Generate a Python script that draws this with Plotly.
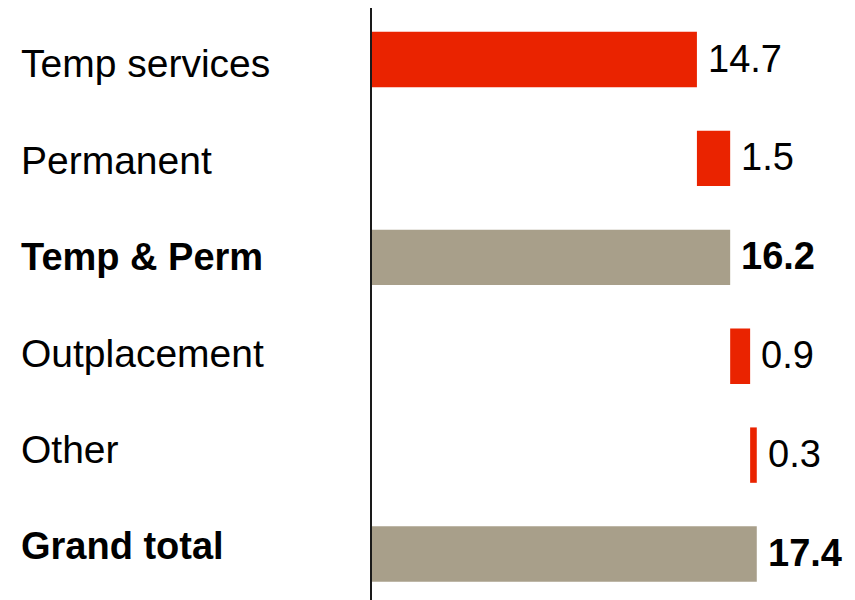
import plotly.graph_objects as go

# Revenue bridge by service line
categories = ["Temp services", "Permanent", "Temp & Perm", "Outplacement", "Other", "Grand total"]
values = [14.7, 1.5, 16.2, 0.9, 0.3, 17.4]
is_total = [False, False, True, False, False, True]

RED = "#EA2300"
TAN = "#A89F8A"
FONT = "Liberation Sans, Arial, sans-serif"

# running base for the floating (incremental) bars
bases = []
running = 0.0
for v, tot in zip(values, is_total):
    if tot:
        bases.append(0.0)
        running = v
    else:
        bases.append(running)
        running += v

colors = [TAN if t else RED for t in is_total]

fig = go.Figure()
fig.add_trace(go.Bar(
    y=categories,
    x=values,
    base=bases,
    orientation="h",
    marker=dict(color=colors, line=dict(width=0)),
    width=0.56,
    hoverinfo="skip",
))

annotations = []
for i, (cat, v, b, tot) in enumerate(zip(categories, values, bases, is_total)):
    label = f"<b>{v:.1f}</b>" if tot else f"{v:.1f}"
    annotations.append(dict(
        x=b + v, y=cat, xref="x", yref="y",
        text=label, showarrow=False, xanchor="left", yanchor="middle",
        xshift=9, yshift=1,
        font=dict(family=FONT, size=38, color="#000000"),
    ))
    name = f"<b>{cat}</b>" if tot else cat
    annotations.append(dict(
        x=0, y=cat, xref="paper", yref="y",
        text=name, showarrow=False, xanchor="left", yanchor="middle",
        xshift=-350, yshift=-4 + 2.4 * i,
        font=dict(family=FONT, size=38 if tot else 39, color="#000000"),
    ))

# vertical zero line
fig.add_shape(type="line", xref="x", yref="paper", x0=0, x1=0, y0=0, y1=1,
              line=dict(color="#1a1a1a", width=2))

fig.update_layout(
    width=855, height=600,
    margin=dict(l=369, r=0, t=8, b=0),
    paper_bgcolor="white", plot_bgcolor="white",
    showlegend=False,
    annotations=annotations,
    xaxis=dict(range=[-0.09, 21.83], visible=False, fixedrange=True),
    yaxis=dict(range=[5.465, -0.521], visible=False, fixedrange=True),
)

fig.write_html("out.html")
